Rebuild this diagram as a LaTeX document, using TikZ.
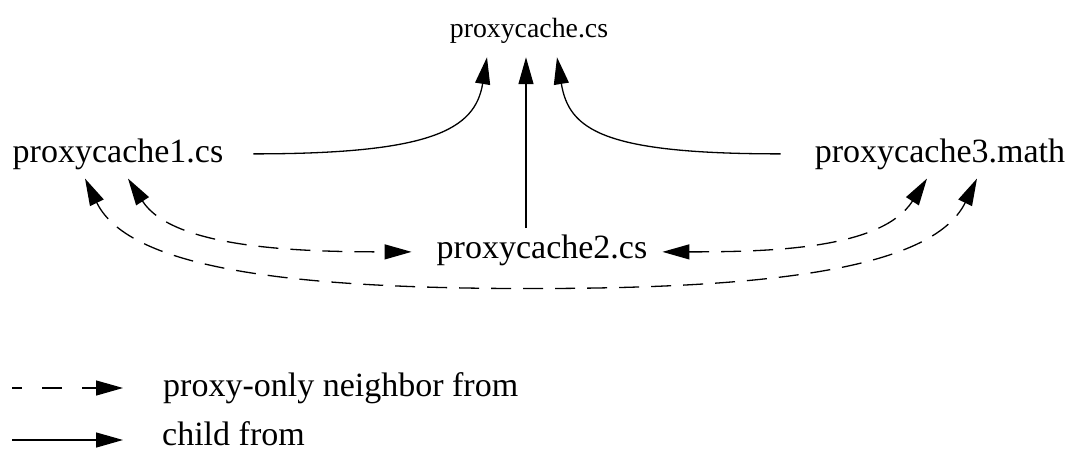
\documentclass[tikz,border=0pt]{standalone}
\usepackage{fontspec}
\setmainfont{Liberation Serif}
\usetikzlibrary{positioning, arrows.meta}

\begin{document}
\begin{tikzpicture}[
    x=1pt, y=1pt,
    host/.style={
        inner sep=0pt,
        anchor=base,
        font=\fontsize{34}{40}\selectfont
    },
    root/.style={
        host,
        font=\fontsize{27.8}{33}\selectfont
    },
    legtext/.style={
        inner sep=0pt,
        font=\fontsize{34}{40}\selectfont
    },
    child/.style={
        -{Triangle[length=27pt, width=15pt]},
        line width=1.3pt
    },
    peer/.style={
        {Triangle[length=27pt, width=15pt]}-{Triangle[length=27pt, width=15pt]},
        line width=1.3pt,
        dash pattern=on 20pt off 12pt
    },
    legdash/.style={
        child,
        dash pattern=on 20pt off 20pt,
        dash phase=10pt
    }
]
\useasboundingbox (0,0) rectangle (1072,-451);

% Cache hosts
\node (top) [root] at (529,-37) {proxycache.cs};
\node (pc1) [host] at (118,-162) {proxycache1.cs};
\node (pc2) [host] at (542,-258) {proxycache2.cs};
\node (pc3) [host] at (940,-162) {proxycache3.math};

% Child links to the parent
\draw [child] ([xshift=30pt]pc1.east) .. controls +(177,0) and +(-12,-73) .. ([xshift=-42pt,yshift=-14pt]top.south);
\draw [child] ([xshift=-16pt,yshift=6pt]pc2.north) -- ([xshift=-3pt,yshift=-14pt]top.south);
\draw [child] ([xshift=-34pt]pc3.west) .. controls +(-177,0) and +(12,-73) .. ([xshift=28pt,yshift=-14pt]top.south);

% Proxy-only neighbours
\draw [peer] ([xshift=10pt,yshift=-9pt]pc1.south) .. controls +(45,-70) and +(-112,0) .. ([xshift=-25pt,yshift=-2pt]pc2.west);
\draw [peer] ([xshift=15pt,yshift=-2pt]pc2.east) .. controls +(112,0) and +(-45,-70) .. ([xshift=-13pt,yshift=-9pt]pc3.south);
\draw [peer] ([xshift=-33pt,yshift=-9pt]pc1.south) .. controls +(45,-92) and +(-231,0) .. ([xshift=-11pt,yshift=-23pt]pc2.south)
    .. controls +(231,0) and +(-45,-92) .. ([xshift=37pt,yshift=-9pt]pc3.south);

% Legend
\coordinate (dashA) at (12,-388);
\coordinate (dashB) at (123,-388);
\coordinate (lineA) at (12,-440);
\coordinate (lineB) at (123,-440);
\draw [legdash] (dashA) -- (dashB);
\draw [child] (lineA) -- (lineB);
\node (legpeer) [legtext, right=40pt of dashB, anchor=base west, yshift=-8pt] {proxy-only neighbor from};
\node (legchild) [legtext, right=39pt of lineB, anchor=base west, yshift=-5pt] {child from};

\end{tikzpicture}
\end{document}
